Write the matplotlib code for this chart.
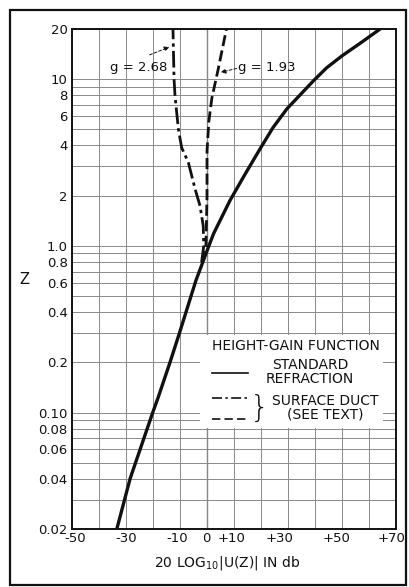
import matplotlib
matplotlib.use("Agg")
import matplotlib.pyplot as plt
from matplotlib.patches import Rectangle
from matplotlib.lines import Line2D

# ── data ──────────────────────────────────────────────────────────────────────
# standard refraction (solid)
std_z = [0.02, 0.04, 0.1, 0.123, 0.2, 0.3, 0.62, 0.98, 1.18, 1.87, 2.64, 3.88, 5.11,
         6.64, 8.02, 9.77, 11.7, 13.8, 16.5, 20]
std_db = [-33.4, -28.5, -20.1, -18.1, -13.7, -10.2, -4.1, 0.5, 2.4, 8.5, 13.8, 19.9,
          24.4, 29.6, 34.4, 39.4, 44.3, 50.0, 56.9, 64.1]
# surface duct, g = 2.68 (dash-dot)
dd_z = [0.8, 1.0, 1.32, 1.74, 2.19, 3.16, 3.89, 5.01, 7.94, 10, 14, 20]
dd_db = [-2.0, -1.2, -1.4, -2.6, -4.4, -6.9, -9.4, -10.6, -11.85, -12.2, -12.4, -12.6]
# surface duct, g = 1.93 (dashed)
ds_z = [0.8, 1.0, 2, 3.7, 5.6, 7.7, 11.4, 20]
ds_db = [-1.8, -0.4, 0.0, 0.0, 0.7, 1.8, 4.1, 7.2]

x_ticks = list(range(-50, 71, 10))
x_labels = ["-50", "", "-30", "", "-10", "0", "+10", "", "+30", "", "+50", "", "+70"]
x_label_shift = [3, 0, 0, 0, -2.5, -1, -2.5, 0, -8, 0, -5, 0, -4]   # hand-lettered offsets, px
y_ticks = [0.02, 0.04, 0.06, 0.08, 0.10, 0.2, 0.4, 0.6, 0.8, 1.0, 2, 4, 6, 8, 10, 20]
y_labels = ["0.02", "0.04", "0.06", "0.08", "0.10", "0.2", "0.4", "0.6", "0.8", "1.0",
            "2", "4", "6", "8", "10", "20"]
y_minor = [0.03, 0.05, 0.07, 0.09, 0.3, 0.5, 0.7, 0.9, 3, 5, 7, 9]

plt.rcParams["font.family"] = ["DejaVu Sans"]
INK = "#111111"

fig = plt.figure(figsize=(4.10, 5.87), dpi=100)
ax = fig.add_axes([0.1756, 0.0988, 0.7903, 0.8518])

ax.set_yscale("log")
ax.set_xlim(-50, 70)
ax.set_ylim(0.02, 20)

ax.set_xticks(x_ticks)
ax.set_xticklabels([])
for x, lab, dx in zip(x_ticks, x_labels, x_label_shift):
    ax.annotate(lab, xy=(x, 0), xycoords=("data", "axes fraction"),
                xytext=(dx * 0.72, -2.5), textcoords="offset points",
                ha="center", va="top", fontsize=9.5, color=INK)
ax.set_yticks(y_ticks)
ax.set_yticklabels(y_labels, fontsize=9.5, color=INK)
ax.set_yticks(y_minor, minor=True)
ax.yaxis.set_minor_formatter(matplotlib.ticker.NullFormatter())
ax.tick_params(which="both", length=0, pad=3)

ax.grid(True, which="both", color="#8a8a8a", lw=0.7)
ax.axvline(0, color="#333333", lw=0.9, zorder=1)
for s in ax.spines.values():
    s.set_linewidth(1.4)
    s.set_color(INK)

ax.plot(std_db, std_z, color=INK, lw=2.4, solid_joinstyle="round", zorder=3)
ax.plot(dd_db, dd_z, color=INK, lw=2.0, dashes=(6, 1.5, 1.2, 1.5), zorder=3)
ax.plot(ds_db, ds_z, color=INK, lw=2.0, dashes=(4, 1.6), zorder=3)

# annotations
ax.text(-25.2, 11.7, "g = 2.68", fontsize=9.5, ha="center", va="center", color=INK)
ax.annotate("", xy=(-13, 15.8), xytext=(-22.2, 13.8),
            arrowprops=dict(arrowstyle="-|>", lw=0.7, ls=(0, (3, 2)), color=INK,
                            mutation_scale=7))
ax.text(22.0, 11.7, "g = 1.93", fontsize=9.5, ha="center", va="center", color=INK)
ax.annotate("", xy=(4.1, 10.9), xytext=(12.0, 11.7),
            arrowprops=dict(arrowstyle="-|>", lw=0.7, ls=(0, (3, 2)), color=INK,
                            mutation_scale=7))

ax.set_xlabel("20 LOG$_{10}$|U(Z)| IN db", fontsize=10, color=INK)
ax.xaxis.set_label_coords(0.478, -0.05)
ax.set_ylabel("Z", fontsize=10.5, rotation=0, color=INK, labelpad=10, va="center")

# legend panel (white patch over the grid)
ax.add_patch(Rectangle((0.395, 0.202), 0.565, 0.186, transform=ax.transAxes,
                       facecolor="white", edgecolor="none", zorder=4))
tkw = dict(transform=ax.transAxes, fontsize=10, color=INK, ha="center", va="center",
           zorder=5)
ax.text(0.690, 0.366, "HEIGHT-GAIN FUNCTION", **tkw)
ax.text(0.735, 0.329, "STANDARD", **tkw)
ax.text(0.735, 0.301, "REFRACTION", **tkw)
ax.text(0.781, 0.256, "SURFACE DUCT", **tkw)
ax.text(0.781, 0.230, "(SEE TEXT)", **tkw)
ax.add_line(Line2D([0.432, 0.543], [0.312, 0.312], transform=ax.transAxes,
                   color=INK, lw=1.2, zorder=5))
ax.add_line(Line2D([0.432, 0.543], [0.262, 0.262], transform=ax.transAxes,
                   color=INK, lw=1.2, dashes=(6, 2, 1.5, 2), zorder=5))
ax.add_line(Line2D([0.432, 0.543], [0.220, 0.220], transform=ax.transAxes,
                   color=INK, lw=1.2, dashes=(5, 2.5), zorder=5))
ax.text(0.578, 0.242, "}", transform=ax.transAxes, fontsize=22, color=INK,
        ha="center", va="center", zorder=5, fontweight="light")

# outer frame around the whole figure
fig.add_artist(Rectangle((0.024, 0.004), 0.966, 0.979, transform=fig.transFigure,
                         fill=False, edgecolor=INK, lw=1.6))

fig.savefig("out.png", dpi=100)
